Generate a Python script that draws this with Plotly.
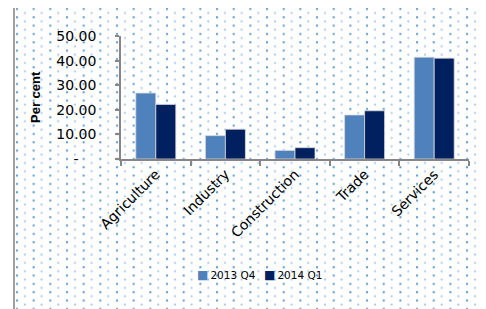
import base64
import plotly.graph_objects as go

categories = ["Agriculture", "Industry", "Construction", "Trade", "Services"]
series_names = ["2013 Q4", "2014 Q1"]
values_2013q4 = [26.8, 9.5, 3.5, 17.9, 41.4]
values_2014q1 = [22.2, 12.1, 4.6, 19.6, 41.0]
y_tickvals = [0, 10, 20, 30, 40, 50]
y_ticktext = ["-\u00a0\u00a0\u00a0\u00a0", "10.00", "20.00", "30.00", "40.00", "50.00"]
colors = ["#4F81BD", "#002060"]

OFF = 8  # page body margin offset
W, H = 486 - OFF, 309 - OFF
L, R, T, B = 121 - OFF, 17, 36 - OFF, 150
pw, ph = W - L - R, H - T - B


def px_x(x):
    return (x - OFF - L) / pw


def px_y(y):
    return (H - B - (y - OFF)) / ph


svg = (
    '<svg xmlns="http://www.w3.org/2000/svg" width="472" height="303">'
    '<defs><pattern id="p" width="16.67" height="8.33" patternUnits="userSpaceOnUse">'
    '<rect x="2" y="2" width="2" height="2" fill="#5B9BD5"/>'
    '<rect x="10.3" y="6.1" width="1.2" height="1.8" fill="#6FA6DE"/>'
    '</pattern></defs>'
    '<rect width="472" height="303" fill="url(#p)"/></svg>'
)
src = "data:image/svg+xml;base64," + base64.b64encode(svg.encode()).decode()

fig = go.Figure()
for name, vals, col in zip(series_names, [values_2013q4, values_2014q1], colors):
    fig.add_trace(go.Bar(
        x=categories, y=vals, name=name, showlegend=False,
        marker=dict(color=col, line=dict(color="#D9D9D9", width=0.8)),
    ))

font = "DejaVu Sans"
legend_x = [195, 262]
annotations = [dict(text="<b>Per cent</b>", textangle=-90, xref="paper", yref="paper",
                    x=px_x(35), y=px_y(97), xanchor="center", yanchor="middle",
                    showarrow=False,
                    font=dict(family="Liberation Sans", size=13, color="#000000"))]
for name, col, lx in zip(series_names, colors, legend_x):
    annotations.append(dict(
        text=f"<span style='color:{col};font-size:12px'>\u25A0</span>\u2009{name}",
        xref="paper", yref="paper", x=px_x(lx), y=px_y(275),
        xanchor="left", yanchor="middle", showarrow=False,
        font=dict(family=font, size=10.5, color="#000000")))

fig.update_layout(
    width=W, height=H,
    margin=dict(l=L, r=R, t=T, b=B, autoexpand=False),
    paper_bgcolor="white",
    plot_bgcolor="rgba(0,0,0,0)",
    barmode="group", bargap=0.425, bargroupgap=0,
    font=dict(family=font, size=14, color="#000000"),
    showlegend=False,
    xaxis=dict(showline=True, linecolor="#868686", linewidth=1.5, ticks="outside",
               tickson="boundaries", ticklen=5, tickcolor="#868686", tickwidth=1.5,
               tickangle=-45, tickfont=dict(size=14, family=font), showgrid=False,
               automargin=False),
    yaxis=dict(range=[0, 50], tickvals=y_tickvals, ticktext=y_ticktext,
               showline=True, linecolor="#868686", linewidth=1.5, ticks="outside",
               ticklen=4, tickcolor="#868686", tickwidth=1.5, showgrid=False,
               zeroline=False, tickfont=dict(size=14, family=font),
               ticklabelstandoff=16, automargin=False),
    images=[dict(source=src, xref="paper", yref="paper", x=px_x(14), y=px_y(6),
                 sizex=472 / pw, sizey=303 / ph, xanchor="left", yanchor="top",
                 sizing="stretch", layer="below")],
    shapes=[
        dict(type="line", xref="paper", yref="paper", x0=px_x(14), x1=px_x(486),
             y0=px_y(6), y1=px_y(6), line=dict(color="#A0A0A0", width=2)),
        dict(type="line", xref="paper", yref="paper", x0=px_x(14), x1=px_x(14),
             y0=px_y(6), y1=px_y(309), line=dict(color="#A0A0A0", width=2)),
    ],
    annotations=annotations,
)

fig.write_html("out.html")
